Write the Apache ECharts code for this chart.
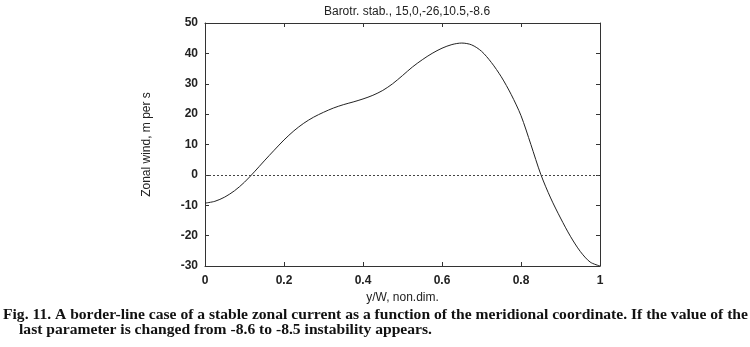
<!DOCTYPE html>
<html>
<head>
<meta charset="utf-8">
<script src="https://cdn.jsdelivr.net/npm/echarts@6/dist/echarts.min.js"></script>
<style>
    html, body { margin: 0; padding: 0; background: #fff; }
    #chart { width: 750px; height: 347px; }
</style>
</head>
<body>
<div id="chart"></div>
<script>
    // y/W (non-dimensional meridional coordinate)
    const yW = [0, 0.025, 0.05, 0.075, 0.1, 0.125, 0.15, 0.175, 0.2, 0.225, 0.25, 0.275, 0.3,
        0.325, 0.35, 0.375, 0.4, 0.425, 0.45, 0.475, 0.5, 0.525, 0.55, 0.575, 0.6, 0.625,
        0.65, 0.675, 0.7, 0.725, 0.75, 0.775, 0.8, 0.825, 0.85, 0.875, 0.9, 0.925, 0.95, 0.975, 1]
    // zonal wind, m per s
    const wind = [-9.3, -8.7, -7.3, -5.2, -2.4, 1.0, 4.6, 8.1, 11.5, 14.5, 17.0, 19.0, 20.6,
        22.0, 23.1, 24.0, 25.0, 26.2, 27.8, 30.0, 32.7, 35.5, 37.9, 40.0, 41.7, 42.9,
        43.4, 42.8, 40.7, 37.0, 32.3, 26.5, 19.5, 10.0, 0.2, -7.6, -14.2, -20.2, -25.2, -28.7, -30.0]
    const xTicks = [0, 0.2, 0.4, 0.6, 0.8, 1]
    const yTicks = [-30, -20, -10, 0, 10, 20, 30, 40, 50]

    const title = 'Barotr. stab., 15,0,-26,10.5,-8.6'
    const xName = 'y/W, non.dim.'
    const yName = 'Zonal wind, m per s'
    const caption1 = 'Fig. 11. A border-line case of a stable zonal current as a function of the meridional coordinate. If the value of the'
    const caption2 = 'last parameter is changed from -8.6 to -8.5 instability appears.'

    const axisColor = '#333'
    const labelStyle = {
        fontFamily: 'Liberation Sans',
        fontSize: 12,
        fontWeight: 'bold',
        color: '#222'
    }

    function frameAxis (extra) {
        return Object.assign({
            type: 'value',
            axisLine: { show: true, onZero: false, lineStyle: { color: axisColor, width: 1 } },
            axisTick: { show: true, inside: true, length: 4, lineStyle: { color: axisColor } },
            splitLine: { show: false }
        }, extra)
    }

    const chart = echarts.init(document.getElementById('chart'), null, { renderer: 'canvas' })
    const option = {
        animation: false,
        backgroundColor: '#fff',
        title: {
            text: title,
            left: 402,
            textAlign: 'center',
            top: 1,
            textStyle: { fontFamily: 'Liberation Sans', fontSize: 12, fontWeight: 'normal', color: '#222' }
        },
        grid: { left: 205, right: 150, top: 23, bottom: 81 },
        xAxis: [
            frameAxis({
                min: xTicks[0], max: xTicks[xTicks.length - 1], interval: 0.2,
                name: xName,
                nameLocation: 'middle',
                nameGap: 23,
                nameTextStyle: { fontFamily: 'Liberation Sans', fontSize: 12, color: '#222' },
                axisLabel: Object.assign({ margin: 9, formatter: v => String(+v.toFixed(1)) }, labelStyle)
            }),
            frameAxis({
                position: 'top', min: xTicks[0], max: xTicks[xTicks.length - 1], interval: 0.2,
                axisLabel: { show: false }
            })
        ],
        yAxis: [
            frameAxis({
                min: yTicks[0], max: yTicks[yTicks.length - 1], interval: 10,
                name: yName,
                nameLocation: 'middle',
                nameGap: 52,
                nameTextStyle: { fontFamily: 'Liberation Sans', fontSize: 12, color: '#222' },
                axisLabel: Object.assign({ margin: 7 }, labelStyle)
            }),
            frameAxis({
                position: 'right', min: yTicks[0], max: yTicks[yTicks.length - 1], interval: 10,
                axisLabel: { show: false }
            })
        ],
        series: [
            {
                type: 'line',
                data: yW.map((x, i) => [x, wind[i]]),
                showSymbol: false,
                smooth: 0.3,
                silent: true,
                lineStyle: { color: '#222', width: 1 },
                markLine: {
                    silent: true,
                    symbol: 'none',
                    label: { show: false },
                    lineStyle: { color: '#444', type: [2, 2], width: 1 },
                    data: [{ yAxis: 0 }]
                }
            }
        ],
        graphic: [
            {
                type: 'text',
                left: 3,
                top: 307,
                style: {
                    text: caption1,
                    fontFamily: 'Liberation Serif',
                    fontSize: 15.6,
                    fontWeight: 'bold',
                    fill: '#111'
                }
            },
            {
                type: 'text',
                left: 19,
                top: 322,
                style: {
                    text: caption2,
                    fontFamily: 'Liberation Serif',
                    fontSize: 15.6,
                    fontWeight: 'bold',
                    fill: '#111'
                }
            }
        ]
    }
    chart.setOption(option)
</script>
</body>
</html>
